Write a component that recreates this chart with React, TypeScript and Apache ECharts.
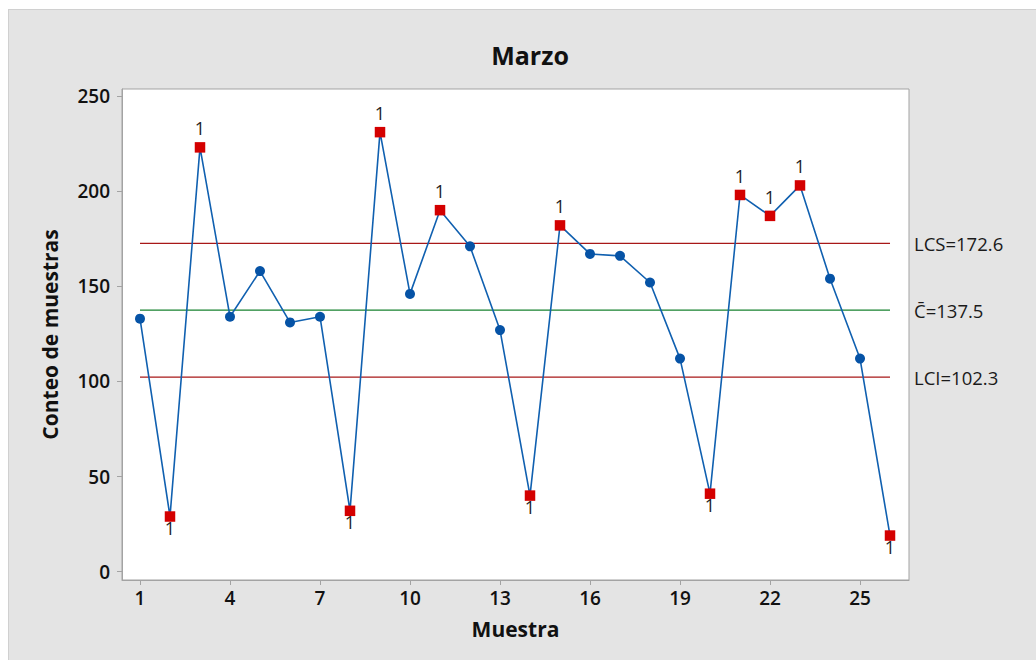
import { useEffect, useRef } from "react";
import * as echarts from "echarts";

const chartTitle = "Marzo";
const xName = "Muestra";
const yName = "Conteo de muestras";
const samples = [1, 2, 3, 4, 5, 6, 7, 8, 9, 10, 11, 12, 13, 14, 15, 16, 17, 18, 19, 20, 21, 22, 23, 24, 25, 26];
const counts = [133, 29, 223, 134, 158, 131, 134, 32, 231, 146, 190, 171, 127, 40, 182, 167, 166, 152, 112, 41, 198, 187, 203, 154, 112, 19];
const LCS = 172.6;
const CBAR = 137.5;
const LCI = 102.3;
const xTicks = [1, 4, 7, 10, 13, 16, 19, 22, 25];
const yTicks = [0, 50, 100, 150, 200, 250];

const FONT = "'Open Sans', 'Noto Sans', sans-serif";

export default function App() {
  const ref = useRef<HTMLDivElement>(null);
  useEffect(() => {
    if (!ref.current) return;
    const chart = echarts.init(ref.current, null, { renderer: "svg" });
    const first = samples[0];
    const last = samples[samples.length - 1];
    const limitLine = (v: number, color: string, text: string) => ({
      type: "line",
      data: [[first, v], [last, v]],
      symbol: "none",
      silent: true,
      lineStyle: { color, width: 1.3 },
      endLabel: {
        show: true,
        formatter: text,
        distance: 24,
        fontFamily: FONT,
        fontSize: 18.5,
        color: "#1a1a1a",
      },
      z: 2,
    });
    const dataPoints = samples.map((s, i) => {
      const v = counts[i];
      const out = v > LCS || v < LCI;
      return {
        value: [s, v],
        symbol: out ? "rect" : "circle",
        symbolSize: out ? 10.5 : 10,
        itemStyle: { color: out ? "#d40000" : "#0653a6" },
        label: {
          show: out,
          formatter: "1",
          position: v > CBAR ? "top" : "bottom",
          distance: v > CBAR ? 5 : -3,
          fontFamily: FONT,
          fontSize: 18,
          color: "#222",
        },
      };
    });
    chart.setOption({
      animation: false,
      backgroundColor: "transparent",
      textStyle: { fontFamily: FONT },
      graphic: [
        {
          type: "text",
          x: 530,
          y: 55,
          style: {
            text: chartTitle,
            align: "center",
            verticalAlign: "middle",
            fontFamily: FONT,
            fontSize: 25,
            fontWeight: "bold",
            fill: "#111",
          },
        },
      ],
      grid: {
        left: 122,
        top: 89,
        width: 787,
        height: 491,
        show: true,
        backgroundColor: "#ffffff",
        borderColor: "#a3a3a3",
        borderWidth: 1,
      },
      xAxis: {
        type: "value",
        min: 0.4,
        max: 26.633,
        name: xName,
        nameLocation: "middle",
        nameGap: 38,
        nameTextStyle: { fontFamily: FONT, fontSize: 21, fontWeight: "bold", color: "#111" },
        axisLine: { show: true, onZero: false, lineStyle: { color: "#a3a3a3", width: 1 } },
        axisTick: { show: true, customValues: xTicks, length: 5, lineStyle: { color: "#a3a3a3" } },
        axisLabel: { customValues: xTicks, fontFamily: FONT, fontSize: 19, color: "#111", margin: 8, fontWeight: 600 },
        splitLine: { show: false },
      },
      yAxis: {
        type: "value",
        min: -4.36,
        max: 253.68,
        name: yName,
        nameLocation: "middle",
        nameGap: 62,
        nameTextStyle: { fontFamily: FONT, fontSize: 21, fontWeight: "bold", color: "#111" },
        axisLine: { show: true, onZero: false, lineStyle: { color: "#a3a3a3", width: 1 } },
        axisTick: { show: true, customValues: yTicks, length: 5, lineStyle: { color: "#a3a3a3" } },
        axisLabel: { customValues: yTicks, fontFamily: FONT, fontSize: 19, color: "#111", margin: 12, fontWeight: 600 },
        splitLine: { show: false },
      },
      series: [
        limitLine(LCS, "#a81818", `LCS=${LCS}`),
        limitLine(CBAR, "#17822f", `C\u0304=${CBAR}`),
        limitLine(LCI, "#a81818", `LCI=${LCI}`),
        {
          type: "line",
          data: dataPoints,
          lineStyle: { color: "#1060b0", width: 1.6 },
          z: 3,
        },
      ],
    });
    return () => chart.dispose();
  }, []);
  return (
    <div style={{ position: "fixed", left: 0, top: 0, width: 1036, height: 660, background: "#ffffff" }}>
      <div
        style={{
          position: "absolute",
          left: 8,
          top: 9,
          right: 0,
          bottom: 0,
          background: "#e4e4e4",
          borderTop: "1px solid #d0d0d0",
          borderLeft: "1px solid #d0d0d0",
        }}
      />
      <div ref={ref} style={{ position: "absolute", left: 0, top: 0, width: 1036, height: 660 }} />
    </div>
  );
}
